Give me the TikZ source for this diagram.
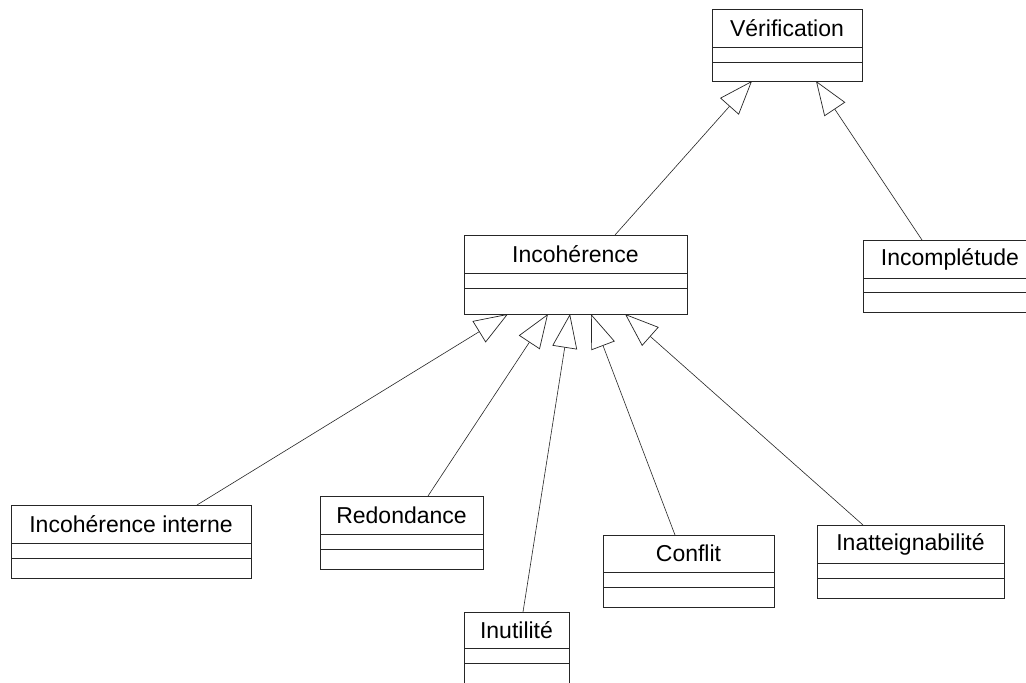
\documentclass[tikz,border=0pt]{standalone}
\usepackage{fontspec}
\setmainfont{Liberation Sans}
\usetikzlibrary{arrows.meta,calc}

\tikzset{
  classbox/.style={draw=black!85, line width=0.7pt, rectangle, inner sep=0pt, outer sep=0pt, fill=white},
  classtitle/.style={inner sep=0pt, font=\fontsize{23}{27}\selectfont, text=black},
  compart/.style={draw=black!85, line width=0.7pt},
  inherit/.style={draw=black!85, line width=0.6pt,
    -{Triangle[open, length=34pt, width=25pt, line width=0.7pt]}},
}

% UML class with an empty attribute and operation compartment
% #1 name, #2 left, #3 top, #4 right, #5 bottom, #6 first rule, #7 second rule, #8 title
\newcommand{\umlclass}[8]{%
  \node[classbox, anchor=north west,
        minimum width={(#4-#2)*1pt}, minimum height={(#5-#3)*1pt}] (#1) at (#2,#3) {};
  \node[classtitle] (#1-t) at ({(#2+#4)/2},{(#3+#6)/2}) {#8};
  \draw[compart] (#2,#6) -- (#4,#6);
  \draw[compart] (#2,#7) -- (#4,#7);
}

\begin{document}
\begin{tikzpicture}[x=1pt, y=-1pt]
  \fill[white] (0,0) rectangle (1026,683);
  \useasboundingbox (0,0) rectangle (1026,683);
  \clip (0,0) rectangle (1026,683);

  % classes
  \umlclass{ver}{712}{9}{862}{81}{47}{62}{Vérification}
  \umlclass{inc}{464}{235}{687}{314}{273}{288}{Incohérence}
  \umlclass{incp}{863}{240}{1037}{312}{278}{292}{Incomplétude}
  \umlclass{ii}{11}{505}{251}{578}{543}{558}{Incohérence interne}
  \umlclass{red}{320}{496}{483}{569}{534}{549}{Redondance}
  \umlclass{inu}{464}{612}{569}{700}{648}{663}{Inutilité}
  \umlclass{con}{603}{535}{774}{607}{572}{587}{Conflit}
  \umlclass{ina}{817}{525}{1004}{598}{563}{578}{Inatteignabilité}

  % generalisations towards Vérification
  \draw[inherit] ($(inc.north west)+(151,0)$) -- ($(ver.south west)+(40,0)$);
  \draw[inherit] ($(incp.north west)+(59,0)$) -- ($(ver.south west)+(104,0)$);

  % generalisations towards Incohérence
  \draw[inherit] ($(ii.north west)+(186,0)$)  -- ($(inc.south west)+(44,0)$);
  \draw[inherit] ($(red.north west)+(108,0)$) -- ($(inc.south west)+(84,0)$);
  \draw[inherit] ($(inu.north west)+(59,0)$)  -- ($(inc.south west)+(106,0)$);
  \draw[inherit] ($(con.north west)+(72,0)$)  -- ($(inc.south west)+(127,0)$);
  \draw[inherit] ($(ina.north west)+(46,0)$)  -- ($(inc.south west)+(161,0)$);
\end{tikzpicture}
\end{document}
